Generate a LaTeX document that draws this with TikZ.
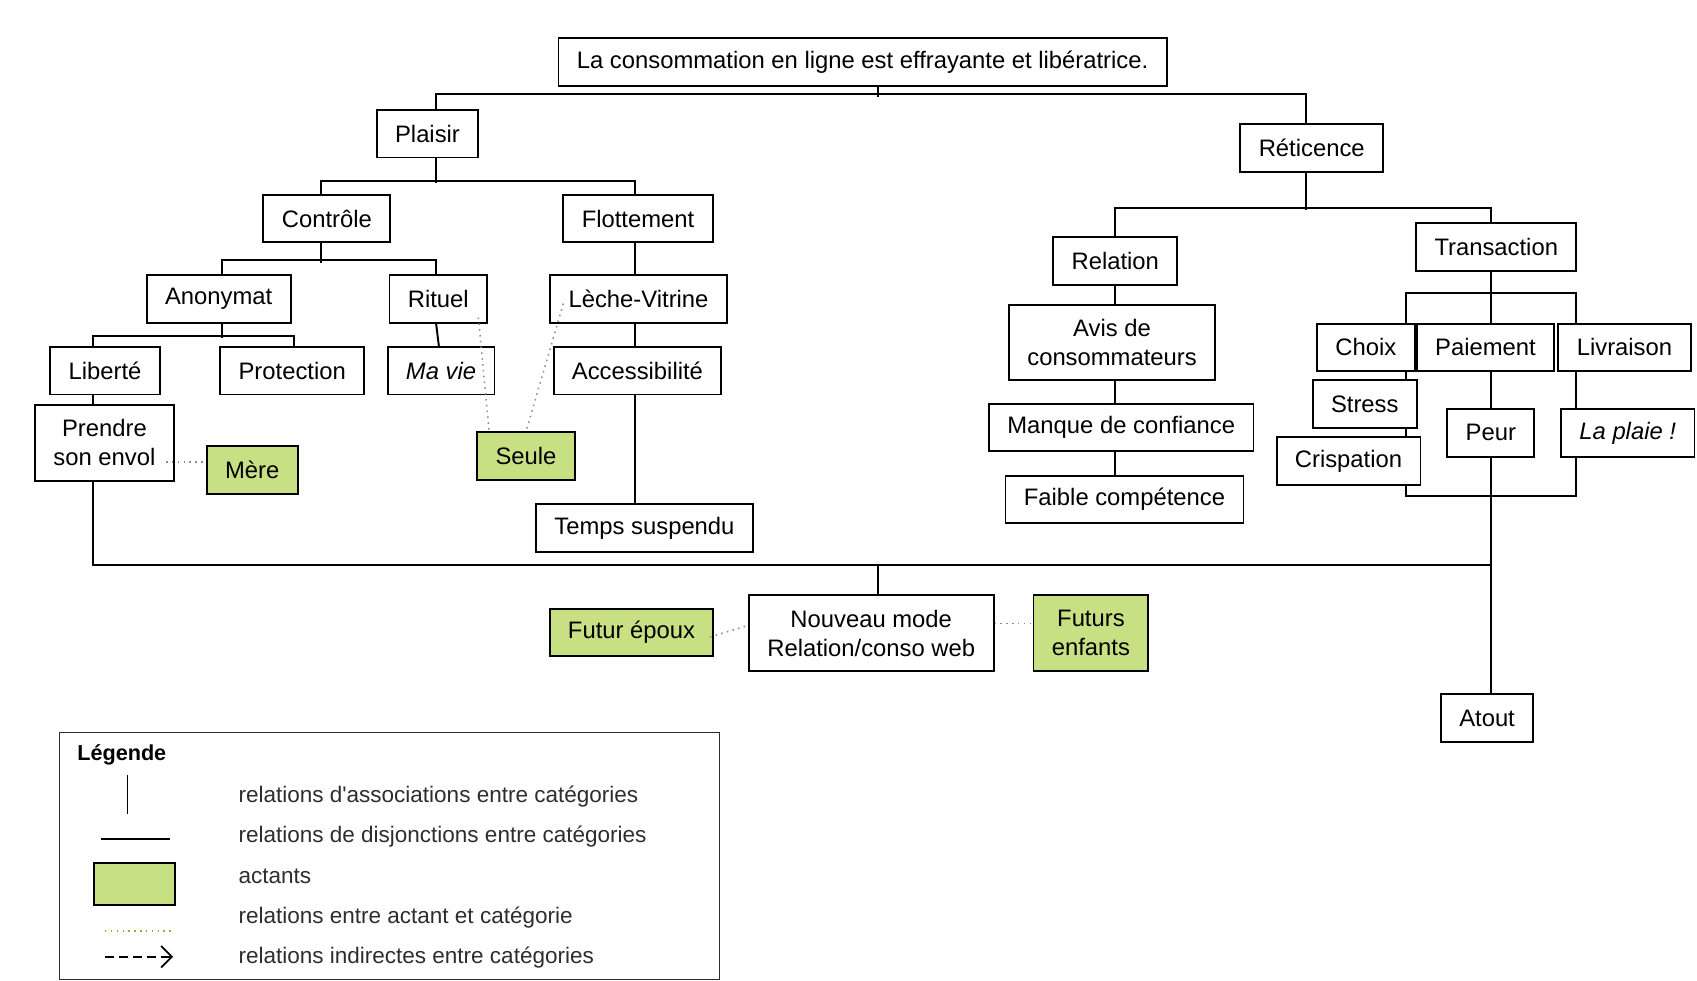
\documentclass[tikz,border=0pt]{standalone}
\usepackage{fontspec}
\setmainfont{Liberation Sans}
\usetikzlibrary{arrows.meta}

\definecolor{actgreen}{RGB}{200,224,132}
\definecolor{dotgray}{RGB}{140,140,125}
\definecolor{dotolive}{RGB}{150,170,60}
\definecolor{legtext}{RGB}{45,45,45}

\tikzset{
  catbox/.style={draw, line width=0.9pt, fill=white, inner xsep=8.5pt, inner ysep=2pt,
    minimum height=22pt, align=center, font=\fontsize{11}{13.5}\selectfont},
  actbox/.style={catbox, fill=actgreen},
  twolines/.style={minimum height=35pt},
  tiewire/.style={line width=0.9pt},
  actlink/.style={dotted, line width=0.7pt, dotgray},
  legitem/.style={anchor=west, inner sep=0pt, text=legtext, font=\fontsize{10.4}{12}\selectfont}
}

\begin{document}
\begin{tikzpicture}[x=0.5pt,y=0.5pt,yscale=-1,xscale=1]
\useasboundingbox (0,0) rectangle (1568,906);

% Category nodes
\node[catbox] (top) at (797,57.5) {La consommation en ligne est effrayante et libératrice.};
\node[catbox] (plaisir) at (395,123.5) {Plaisir};
\node[catbox] (reticence) at (1212,136.5) {Réticence};
\node[catbox] (controle) at (302,202) {Contrôle};
\node[catbox] (flottement) at (589.5,202) {Flottement};
\node[catbox] (anonymat) at (202,276.5) {Anonymat};
\node[catbox] (rituel) at (405,276.5) {Rituel};
\node[catbox] (leche) at (590,276.5) {Lèche-Vitrine};
\node[catbox] (liberte) at (97,342.5) {Liberté};
\node[catbox] (protection) at (270,342.5) {Protection};
\node[catbox] (mavie) at (407.5,342.5) {\itshape Ma vie};
\node[catbox] (access) at (589,342.5) {Accessibilité};
\node[catbox, twolines] (envol) at (96.5,409) {Prendre\\son envol};
\node[catbox] (temps) at (595.5,488) {Temps suspendu};
\node[catbox, twolines] (nouveau) at (805,585) {Nouveau mode\\Relation/conso web};
\node[catbox] (atout) at (1374,663.5) {Atout};
\node[catbox] (relation) at (1030.5,241) {Relation};
\node[catbox, twolines] (avis) at (1027.5,316.5) {Avis de\\consommateurs};
\node[catbox] (manque) at (1036,395) {Manque de confiance};
\node[catbox] (faible) at (1039,461.5) {Faible compétence};
\node[catbox] (transaction) at (1382.5,228) {Transaction};
\node[catbox] (choix) at (1262,321) {Choix};
\node[catbox] (paiement) at (1372.5,321) {Paiement};
\node[catbox] (livraison) at (1501,321) {Livraison};
\node[catbox] (stress) at (1261,373.5) {Stress};
\node[catbox] (crispation) at (1246,426) {Crispation};
\node[catbox] (peur) at (1377.5,400) {Peur};
\node[catbox] (plaie) at (1504,400) {\itshape La plaie !};

% Actant nodes
\node[actbox] (mere) at (233,434.5) {Mère};
\node[actbox] (seule) at (486,421.5) {Seule};
\node[actbox] (epoux) at (583.5,584.5) {Futur époux};
\node[actbox, twolines] (enfants) at (1008,585) {Futurs\\enfants};

% Column helpers
\coordinate (colE) at (86,0);
\coordinate (colL) at (1299,0);
\coordinate (colM) at (1378,0);
\coordinate (colR) at (1456,0);
\coordinate (hub) at (811,522);

% Plaisir side
\draw[tiewire] ([xshift=7pt]top.south) -- ++(0,9);
\draw[tiewire] ([xshift=4pt]plaisir.north) -- ++(0,-14) -| ([xshift=-2.5pt]reticence.north);
\draw[tiewire] ([xshift=4pt]plaisir.south) -- ++(0,23);
\draw[tiewire] ([xshift=-2.5pt]controle.north) -- ++(0,-12) -| ([xshift=-1.25pt]flottement.north);
\draw[tiewire] ([xshift=-2.5pt]controle.south) -- ++(0,18);
\draw[tiewire] ([xshift=1.5pt]anonymat.north) -- ++(0,-13) -| ([xshift=-1pt]rituel.north);
\draw[tiewire] ([xshift=1.5pt]anonymat.south) -- ++(0,13);
\draw[tiewire] ([xshift=-5.5pt]liberte.north) -- ++(0,-9) -| ([xshift=1pt]protection.north);
\draw[tiewire] ([xshift=-1pt]rituel.south) -- ([xshift=-1pt]mavie.north);
\draw[tiewire] ([xshift=-1.25pt]flottement.south) -- ([xshift=-1.5pt]leche.north);
\draw[tiewire] ([xshift=-1.5pt]leche.south) -- ([xshift=-1pt]access.north);
\draw[tiewire] ([xshift=-1pt]access.south) -- ([xshift=-1pt]access.south |- temps.north);
\draw[tiewire] (liberte.south -| colE) -- (envol.north -| colE);

% Bottom hub
\draw[tiewire] (envol.south -| colE) |- (hub) -- (hub -| colM);
\draw[tiewire] (hub) -- (hub |- nouveau.north);

% Reticence side
\draw[tiewire] ([xshift=-2.5pt]reticence.south) -- ++(0,35);
\draw[tiewire] (relation.north) -- ++(0,-26) -| ([xshift=-2.25pt]transaction.north);
\draw[tiewire] (relation.south) -- (relation.south |- avis.north);
\draw[tiewire] (relation.south |- avis.south) -- (relation.south |- manque.north);
\draw[tiewire] (relation.south |- manque.south) -- (relation.south |- faible.north);
\draw[tiewire] (transaction.south -| colM) -- (paiement.north -| colM);
\draw[tiewire] (choix.north -| colL) -- ++(0,-27) -| (livraison.north -| colR);
\draw[tiewire] (choix.south -| colL) -- (stress.north -| colL);
\draw[tiewire] (stress.south -| colL) -- (crispation.north -| colL);
\draw[tiewire] (crispation.south -| colL) -- ++(0,9) -| (plaie.south -| colR);
\draw[tiewire] (livraison.south -| colR) -- (plaie.north -| colR);
\draw[tiewire] (paiement.south -| colM) -- (peur.north -| colM);
\draw[tiewire] (peur.south -| colM) -- (atout.north -| colM);

% Actant links
\draw[actlink] ([xshift=-4pt,yshift=9pt]envol.east) -- ([yshift=-3.75pt]mere.west);
\draw[actlink] ([xshift=-4.5pt,yshift=-3pt]rituel.south east) -- ([xshift=6pt]seule.north west);
\draw[actlink] ([xshift=6.5pt,yshift=2pt]leche.west) -- (seule.north);
\draw[actlink] ([xshift=-2pt,yshift=2pt]epoux.east) -- ([yshift=-3.5pt]nouveau.west);
\draw[actlink] ([yshift=-4.5pt]nouveau.east) -- ([yshift=-4.5pt]enfants.west);

% Legend
\draw[line width=0.7pt, legtext] (55,677) rectangle (665,905);
\node[legitem, font=\bfseries\fontsize{10}{12}\selectfont, text=black] (legtitle) at (71,697) {Légende};
\draw[line width=0.7pt] (118,716) -- (118,752);
\draw[line width=1pt] (93,775) -- (157,775);
\draw[line width=0.9pt, fill=actgreen] (87,797) rectangle (162,836);
\draw[dotted, line width=0.7pt, dotolive] (97,860) -- (160,860);
\draw[line width=0.8pt, dash pattern=on 4pt off 2.5pt, -{Straight Barb[length=5pt,width=10pt]}] (97,884) -- (160,884);
\node[legitem] (legassoc) at (220,736) {relations d\textquotesingle associations entre catégories};
\node[legitem] (legdisj) at (220,773) {relations de disjonctions entre catégories};
\node[legitem] (legact) at (220,810) {actants};
\node[legitem] (leglink) at (220,848) {relations entre actant et catégorie};
\node[legitem] (legindir) at (220,885) {relations indirectes entre catégories};

\end{tikzpicture}
\end{document}
